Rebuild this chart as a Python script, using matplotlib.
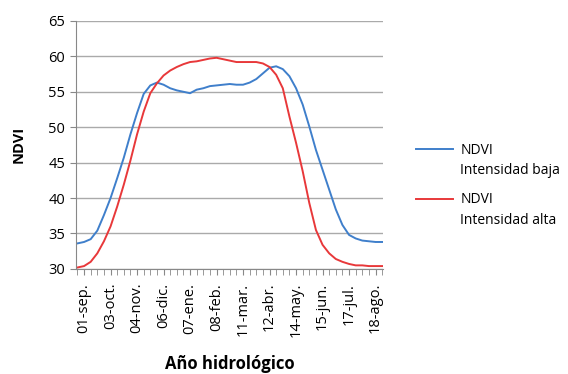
import numpy as np
import matplotlib
matplotlib.use('Agg')
import matplotlib.pyplot as plt
from matplotlib.legend_handler import HandlerLine2D
from matplotlib.lines import Line2D

# 8-day composites across the hydrological year (47 points), label every 4th
etiquetas = ['01-sep.', '03-oct.', '04-nov.', '06-dic.', '07-ene.', '08-feb.',
             '11-mar.', '12-abr.', '14-may.', '15-jun.', '17-jul.', '18-ago.']

ndvi_baja = [33.6, 33.8, 34.2, 35.4, 37.6, 40.0, 42.8, 45.7, 49.0, 52.0,
             54.7, 55.9, 56.3, 56.0, 55.5, 55.2, 55.0, 54.8, 55.3, 55.5,
             55.8, 55.9, 56.0, 56.1, 56.0, 56.0, 56.3, 56.8, 57.6, 58.4,
             58.6, 58.2, 57.2, 55.5, 53.2, 50.1, 46.8, 44.0, 41.2, 38.4,
             36.2, 34.8, 34.3, 34.0, 33.9, 33.8, 33.8]

ndvi_alta = [30.2, 30.4, 31.0, 32.2, 33.9, 36.0, 38.8, 41.9, 45.3, 49.0,
             52.2, 54.8, 56.2, 57.3, 58.0, 58.5, 58.9, 59.2, 59.3, 59.5,
             59.7, 59.8, 59.6, 59.4, 59.2, 59.2, 59.2, 59.2, 59.0, 58.5,
             57.4, 55.5, 51.5, 47.8, 43.8, 39.3, 35.5, 33.4, 32.2, 31.4,
             31.0, 30.7, 30.5, 30.5, 30.4, 30.4, 30.4]


class TopHandler(HandlerLine2D):
    # put the legend line level with the first text line
    def create_artists(self, legend, orig_handle, xdescent, ydescent,
                       width, height, fontsize, trans):
        arts = super().create_artists(legend, orig_handle, xdescent, ydescent,
                                      width, height, fontsize, trans)
        for a in arts:
            if isinstance(a, Line2D):
                a.set_ydata(np.asarray(a.get_ydata()) + fontsize * 0.85)
        return arts


plt.rcParams['font.family'] = ['Open Sans', 'DejaVu Sans']

fig = plt.figure(figsize=(5.68, 3.74), dpi=100)
ax = fig.add_axes([0.134, 0.281, 0.54, 0.663])

x = np.arange(len(ndvi_baja))
ax.plot(x, ndvi_baja, color='#3f7fcb', lw=1.4, label='NDVI\nIntensidad baja')
ax.plot(x, ndvi_alta, color='#e8383a', lw=1.4, label='NDVI\nIntensidad alta')

ax.set_xlim(-0.2, len(x) - 0.9)
ax.set_ylim(30, 65)
ax.set_yticks(np.arange(30, 66, 5))
ax.set_xticks(x, minor=True)
ax.set_xticks(x[1::4])
ax.set_xticklabels(etiquetas, rotation=90, fontsize=10.5)
ax.tick_params(axis='x', which='both', length=4, color='#888888',
               direction='out', pad=6)
ax.tick_params(axis='y', length=4, color='#888888', labelsize=10.5, pad=4)

ax.grid(axis='y', color='#aaaaaa', lw=1)
ax.set_axisbelow(True)
for s in ['top', 'right']:
    ax.spines[s].set_visible(False)
ax.spines['left'].set_color('#888888')
ax.spines['bottom'].set_color('#888888')

ax.set_ylabel('NDVI', fontweight='bold', fontsize=10.5, labelpad=16)
ax.set_xlabel('Año hidrológico', fontweight='bold', fontsize=12, labelpad=13)

leg = fig.legend(loc='center left', bbox_to_anchor=(0.71, 0.505), frameon=False,
                 fontsize=10, handlelength=2.7, handletextpad=0.5,
                 labelspacing=1.0, handler_map={Line2D: TopHandler()})
for t in leg.get_texts():
    t.set_linespacing(1.5)

plt.savefig('out.png', dpi=100)
